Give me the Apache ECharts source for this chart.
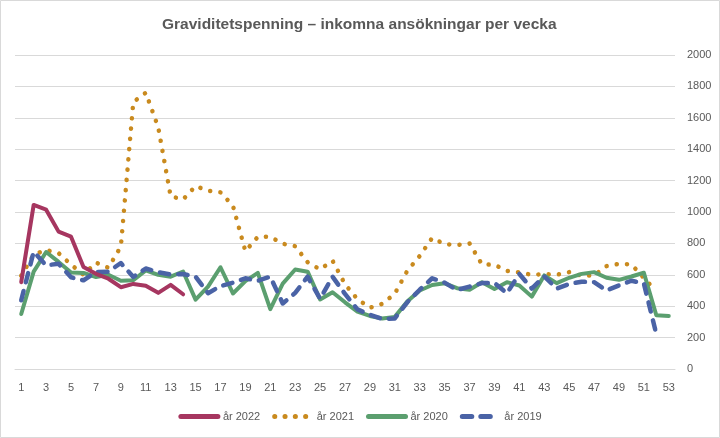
<!DOCTYPE html>
<html>
<head>
<meta charset="utf-8">
<script src="https://cdn.jsdelivr.net/npm/echarts@6/dist/echarts.min.js"></script>
<style>
html,body{margin:0;padding:0;background:#fff;}
#c{width:720px;height:438px;}
</style>
</head>
<body>
<div id="c"></div>
<script>
var weeks = [];
for (var i = 1; i <= 53; i++) weeks.push(String(i));

var y2022 = [553, 1045, 1015, 875, 843, 650, 606, 575, 521, 542, 530, 485, 536, 476];
var y2021 = [594, 728, 758, 738, 665, 600, 678, 645, 780, 1700, 1760, 1540, 1100, 1080, 1165, 1135, 1125, 1040, 750, 842,
             842, 798, 782, 680, 634, 690, 540, 445, 390, 415, 480, 625, 720, 835, 795, 790, 800, 666, 664, 625,
             615, 600, 604, 601, 617, 594, 596, 655, 670, 666, 580, 495];
var y2020 = [350, 620, 745, 682, 615, 612, 586, 600, 562, 565, 628, 600, 588, 621, 442, 525, 648, 481, 560, 612,
             381, 544, 634, 620, 443, 489, 425, 366, 338, 322, 332, 430, 500, 535, 546, 515, 505, 553, 510, 553,
             532, 461, 596, 547, 581, 606, 617, 581, 568, 589, 613, 342, 338];
var y2019 = [438, 747, 660, 671, 584, 565, 618, 620, 675, 586, 640, 616, 602, 605, 588, 483, 528, 550, 578, 562,
             588, 417, 485, 588, 447, 588, 478, 380, 345, 318, 322, 425, 505, 578, 550, 503, 525, 547, 548, 482,
             606, 512, 590, 512, 542, 556, 553, 500, 532, 562, 545, 222];

var titleText = 'Graviditetspenning – inkomna ansökningar per vecka';
var names = ['år 2022', 'år 2021', 'år 2020', 'år 2019'];
var colors = ['#A63660', '#C98A1E', '#5B9F6F', '#4A63A6'];
var font = 'Liberation Sans, Arial, sans-serif';

var chart = echarts.init(document.getElementById('c'), null, {renderer: 'canvas'});
chart.setOption({
  animation: false,
  backgroundColor: '#fff',
  color: colors,
  title: {
    text: titleText,
    left: 157,
    top: 12,
    textStyle: {color: '#595959', fontSize: 15.5, fontWeight: 'bold', fontFamily: font}
  },
  graphic: [{
    type: 'rect', silent: true,
    shape: {x: 0.5, y: 0.5, width: 719, height: 437},
    style: {fill: 'none', stroke: '#D9D9D9', lineWidth: 1}
  }],
  legend: {
    data: names,
    left: 'center',
    top: 406,
    itemWidth: 37,
    itemHeight: 14,
    itemGap: 12,
    itemStyle: {opacity: 0},
    lineStyle: {width: 5},
    textStyle: {color: '#595959', fontSize: 11, fontFamily: font}
  },
  grid: {left: 15, right: 45, top: 55, bottom: 69, containLabel: false},
  xAxis: {
    type: 'category',
    data: weeks,
    boundaryGap: true,
    axisLine: {show: true, lineStyle: {color: '#D9D9D9', width: 1}},
    axisTick: {show: false},
    axisLabel: {interval: 1, color: '#595959', fontSize: 11, fontFamily: font, margin: 13}
  },
  yAxis: {
    type: 'value',
    position: 'right',
    min: 0, max: 2000, interval: 200,
    axisLine: {show: false},
    axisTick: {show: false},
    splitLine: {lineStyle: {color: '#D9D9D9', width: 1}},
    axisLabel: {color: '#595959', fontSize: 11, fontFamily: font, margin: 12,
                formatter: function (v) { return String(v); }}
  },
  series: [
    {name: names[0], type: 'line', data: y2022, symbol: 'none', z: 5,
     lineStyle: {width: 4, color: colors[0], cap: 'round', join: 'round'}},
    {name: names[1], type: 'line', data: y2021, symbol: 'none', z: 2,
     lineStyle: {width: 4.5, color: colors[1], type: [0.1, 10.2], cap: 'round', join: 'round'}},
    {name: names[2], type: 'line', data: y2020, symbol: 'none', z: 3,
     lineStyle: {width: 4, color: colors[2], cap: 'round', join: 'round'}},
    {name: names[3], type: 'line', data: y2019, symbol: 'none', z: 4,
     lineStyle: {width: 4.5, color: colors[3], type: [9.5, 9], cap: 'round', join: 'round'}}
  ]
});
</script>
</body>
</html>
